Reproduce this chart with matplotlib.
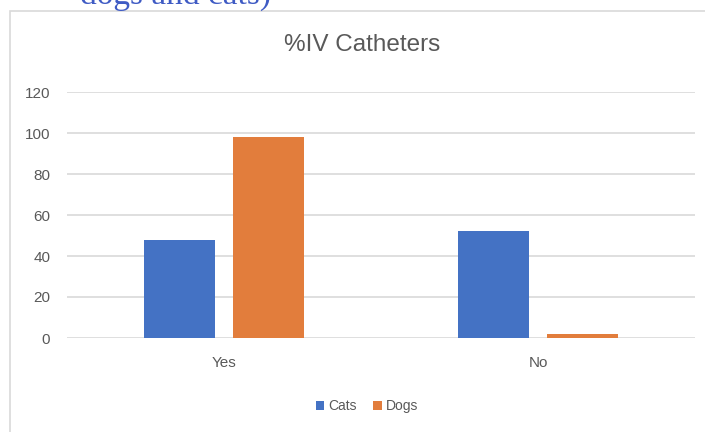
import numpy as np
import matplotlib.pyplot as plt
from matplotlib.patches import Rectangle

plt.rcParams['font.family'] = ['Liberation Sans', 'DejaVu Sans']

categories = ['Yes', 'No']
series_names = ['Cats', 'Dogs']
cats = [48, 52]
dogs = [98, 2]
y_ticks = [0, 20, 40, 60, 80, 100, 120]

blue = '#4472C4'
orange = '#E27D3C'
text_grey = '#595959'

fig = plt.figure(figsize=(7.05, 4.32), dpi=100)

# outer chart frame (only left and top edges show in the crop)
fig.patches.append(Rectangle((10 / 705, -0.1), 1.2, 1.1 - 11 / 432,
                             transform=fig.transFigure, fill=False,
                             edgecolor='#D9D9D9', linewidth=1.2))

# slide heading above the chart, cut off by the top edge
fig.text(80 / 705, 1 - 4 / 432, 'dogs and cats)', family='Liberation Serif',
         fontsize=24, color='#3F5BC4', ha='left', va='baseline')

ax = fig.add_axes([67 / 705, 1 - 338 / 432, (695 - 67) / 705, (338 - 92) / 432])

x = np.arange(len(categories))
bar_width = 0.225
offset = 0.141
ax.bar(x - offset, cats, width=bar_width, color=blue, label=series_names[0], zorder=3)
ax.bar(x + offset, dogs, width=bar_width, color=orange, label=series_names[1], zorder=3)

ax.set_xlim(-0.5, 1.5)
ax.set_ylim(0, 120)
ax.set_yticks(y_ticks)
ax.set_xticks(x)
ax.set_xticklabels(categories)
ax.tick_params(axis='both', length=0, colors=text_grey, labelsize=11)
ax.tick_params(axis='y', pad=12)
ax.tick_params(axis='x', pad=13)
ax.grid(axis='y', color='#D9D9D9', linewidth=1.2, zorder=0)
for s in ax.spines.values():
    s.set_visible(False)

fig.text(362 / 705, 1 - 45 / 432, '%IV Catheters', fontsize=17.5,
         color=text_grey, ha='center', va='center')

fig.legend(loc='center', bbox_to_anchor=(367 / 705, 1 - 406 / 432), ncol=2,
           frameon=False, fontsize=10, handlelength=0.6, handleheight=0.6,
           handletextpad=0.3, columnspacing=1.2, labelcolor=text_grey)

fig.savefig('out.png', dpi=100)
